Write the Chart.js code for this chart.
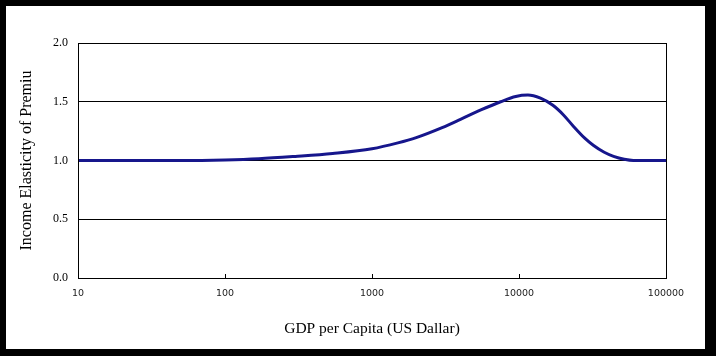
<!DOCTYPE html>
<html>
<head>
<meta charset="utf-8">
<script src="https://cdn.jsdelivr.net/npm/chart.js@4"></script>
<style>
  html, body { margin: 0; padding: 0; background: #000; }
  #frame {
    position: absolute; left: 0; top: 0;
    width: 716px; height: 356px; box-sizing: border-box;
    border-style: solid; border-color: #000;
    border-width: 6px 11px 7px 6px;
    background: #fff;
  }
  #wrap { position: relative; width: 699px; height: 343px; }
</style>
</head>
<body>
<div id="frame"><div id="wrap"><canvas id="c"></canvas></div></div>
<script>
// GDP per capita (US$) sample points
const gdpValues = [10, 50, 100, 170, 300, 540, 1000, 1500, 2000, 3000, 4000, 5500, 7500, 9500, 11500, 14000, 17000, 20000, 23500, 28000, 32000, 38000, 44000, 52000, 60000, 100000];
// Income elasticity of premium at those points
const elasticity = [1.0, 1.0, 1.005, 1.015, 1.035, 1.06, 1.10, 1.15, 1.195, 1.28, 1.35, 1.43, 1.50, 1.545, 1.557, 1.53, 1.47, 1.39, 1.29, 1.19, 1.13, 1.07, 1.035, 1.01, 1.0, 1.0];
const xTicks = [10, 100, 1000, 10000, 100000];
const yTicks = [0.0, 0.5, 1.0, 1.5, 2.0];
const xTitle = 'GDP per Capita (US Dallar)';
const yTitle = 'Income Elasticity of Premiu';

const points = gdpValues.map((g, i) => ({ x: g, y: elasticity[i] }));

const frameAndTicks = {
  id: 'frameAndTicks',
  afterDraw(chart) {
    const { ctx, chartArea: a, scales } = chart;
    ctx.save();
    ctx.strokeStyle = '#000';
    ctx.lineWidth = 1;
    ctx.strokeRect(Math.round(a.left) + 0.5, Math.round(a.top) + 0.5,
      Math.round(a.right - a.left), Math.round(a.bottom - a.top));
    ctx.beginPath();
    xTicks.slice(1, -1).forEach(v => {
      const px = Math.round(scales.x.getPixelForValue(v)) + 0.5;
      ctx.moveTo(px, a.bottom);
      ctx.lineTo(px, a.bottom - 4);
    });
    ctx.stroke();
    ctx.restore();
  }
};

new Chart(document.getElementById('c'), {
  type: 'line',
  data: {
    datasets: [{
      data: points,
      borderColor: '#16168c',
      borderWidth: 3,
      pointRadius: 0,
      fill: false,
      cubicInterpolationMode: 'monotone'
    }]
  },
  options: {
    responsive: true,
    maintainAspectRatio: false,
    animation: false,
    layout: { padding: { left: 0, top: 37, right: 39, bottom: 0 } },
    plugins: { legend: { display: false }, tooltip: { enabled: false } },
    scales: {
      x: {
        type: 'logarithmic',
        min: 10, max: 100000,
        afterBuildTicks(s) { s.ticks = xTicks.map(v => ({ value: v })); },
        afterFit(s) { s.height = 71; },
        grid: { display: false, drawTicks: false },
        border: { display: false },
        ticks: {
          padding: 10,
          color: '#222',
          font: { family: 'DejaVu Sans', size: 9.5 },
          maxRotation: 0, autoSkip: false,
          callback: (v) => String(v)
        },
        title: {
          display: true, text: xTitle, color: '#000',
          font: { family: 'Liberation Serif', size: 15.5 },
          padding: { top: 0, bottom: 11 }
        }
      },
      y: {
        min: 0, max: 2,
        afterBuildTicks(s) { s.ticks = yTicks.map(v => ({ value: v })); },
        afterFit(s) { s.width = 72; },
        grid: { color: '#000', lineWidth: 1, drawTicks: false },
        border: { display: false },
        ticks: {
          padding: 10,
          color: '#000',
          font: { family: 'Liberation Serif', size: 12 },
          callback: (v) => Number(v).toFixed(1)
        },
        title: {
          display: true, text: yTitle, color: '#000',
          font: { family: 'Liberation Serif', size: 16 },
          padding: { top: 11, bottom: 0 }
        }
      }
    }
  },
  plugins: [frameAndTicks]
});
</script>
</body>
</html>
